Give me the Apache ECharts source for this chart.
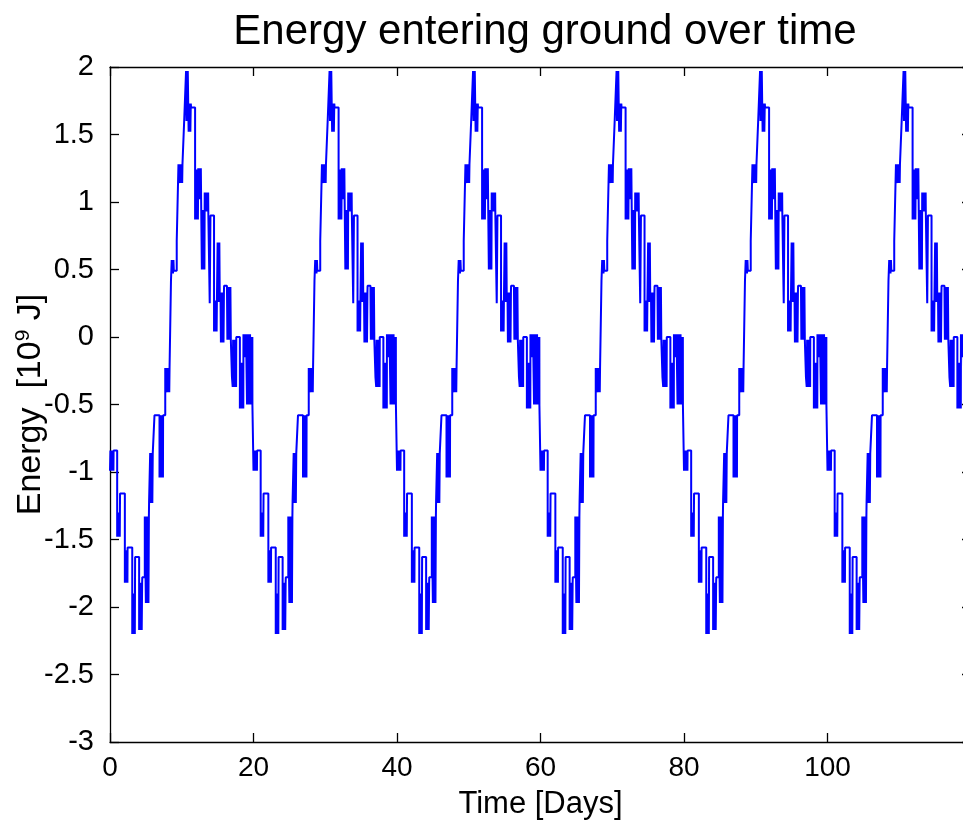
<!DOCTYPE html>
<html>
<head>
<meta charset="utf-8">
<script src="https://cdn.jsdelivr.net/npm/echarts@6/dist/echarts.min.js"></script>
<style>
html,body{margin:0;padding:0;background:#fff;}
#chart{width:963px;height:821px;}
</style>
</head>
<body>
<div id="chart"></div>
<script>
// ---- Data (one 20-day cycle, repeated identically in the picture) ----
const cycleDays = 20;
const cycleCount = 6;
// segment start times (days within a cycle)
const segStart = [0.00,0.50,1.00,1.40,2.07,2.45,3.10,3.50,4.06,4.50,4.85,5.00,5.45,5.60,6.00,6.20,6.90,7.40,7.70,7.90,8.30,8.50,8.60,8.90,9.30,9.54,9.70,10.10,10.33,10.60,10.90,11.30,11.86,11.95,12.30,12.70,12.80,13.20,13.70,13.90,14.00,14.50,14.90,15.00,15.30,15.40,15.90,16.30,16.90,17.00,17.10,17.60,18.10,18.60,19.00,19.10,19.60,19.85];
// segment values: where A == B the level is flat, otherwise the trace oscillates rapidly between A and B
const segA = [-0.99,-0.84,-1.48,-1.16,-1.82,-1.56,-2.20,-1.63,-2.17,-1.78,-1.33,-1.97,-1.21,-0.86,-0.86,-0.58,-1.04,-0.58,-0.23,-0.41,-0.23,0.42,0.57,0.49,0.71,1.28,1.14,1.28,1.59,1.97,1.73,1.70,0.87,1.24,1.25,1.02,0.50,1.07,0.93,0.25,0.90,0.04,0.27,0.70,0.26,0.33,0.38,0.37,-0.02,-0.30,-0.37,0.00,-0.53,0.02,0.02,-0.50,0.00,-0.51];
const segB = [-0.84,-0.84,-1.30,-1.16,-1.58,-1.56,-1.90,-1.63,-1.82,-1.78,-1.33,-1.33,-1.21,-1.23,-0.86,-0.58,-0.58,-0.58,-0.23,-0.23,-0.23,0.42,0.47,0.49,0.71,1.28,1.28,1.28,1.59,1.60,1.52,1.70,0.87,0.87,1.02,1.02,0.94,0.93,0.93,0.25,0.90,0.27,0.27,0.26,0.26,-0.04,0.38,-0.02,-0.02,-0.30,-0.02,0.00,-0.19,-0.15,0.02,0.02,-0.28,-0.51];
const xTicks = [0, 20, 40, 60, 80, 100];
const yTicks = [-3, -2.5, -2, -1.5, -1, -0.5, 0, 0.5, 1, 1.5, 2];

const burstStep = 0.06;
const series = [];
for (let c = 0; c < cycleCount; c++) {
  const off = c * cycleDays;
  for (let i = 0; i < segStart.length; i++) {
    const t0 = segStart[i] + off;
    const t1 = (i + 1 < segStart.length ? segStart[i + 1] : cycleDays) + off;
    if (segA[i] === segB[i]) {
      series.push([t0, segA[i]]);
    } else {
      let k = 0;
      for (let t = t0; t < t1 - 1e-9; t += burstStep, k++) {
        series.push([t, k % 2 === 0 ? segA[i] : segB[i]]);
      }
    }
  }
}
series.push([cycleDays * cycleCount, segA[segA.length - 1]]);

const FONT = 'Liberation Sans, Arial, Helvetica, sans-serif';
const chart = echarts.init(document.getElementById('chart'), null, {renderer: 'canvas'});
const axisLine = {show: true, onZero: false, lineStyle: {color: '#000', width: 1.3}};
const tick = {show: true, inside: true, length: 9, lineStyle: {color: '#000', width: 1.3}};
chart.setOption({
  animation: false,
  backgroundColor: '#fff',
  title: {
    text: 'Energy entering ground over time',
    left: 540,
    top: 6,
    textAlign: 'center',
    textStyle: {fontFamily: FONT, fontSize: 42, fontWeight: 'normal', color: '#000'}
  },
  grid: {left: 110, right: -8, top: 67, bottom: 79, containLabel: false, outerBoundsMode: 'none'},
  xAxis: [{
    type: 'value', min: 0, max: 120, interval: 20, position: 'bottom',
    axisLine: axisLine, axisTick: tick, splitLine: {show: false},
    axisLabel: {color: '#000', fontFamily: FONT, fontSize: 28, margin: 12,
      formatter: v => xTicks.indexOf(v) >= 0 ? String(v) : ''},
    name: 'Time [Days]', nameLocation: 'middle', nameGap: 47, nameMoveOverlap: false,
    nameTextStyle: {color: '#000', fontFamily: FONT, fontSize: 31}
  }, {
    type: 'value', min: 0, max: 120, interval: 20, position: 'top',
    axisLine: axisLine, axisTick: tick, splitLine: {show: false}, axisLabel: {show: false}
  }],
  yAxis: [{
    type: 'value', min: -3, max: 2, interval: 0.5, position: 'left',
    axisLine: axisLine, axisTick: tick, splitLine: {show: false},
    axisLabel: {color: '#000', fontFamily: FONT, fontSize: 29, margin: 16,
      formatter: v => yTicks.indexOf(v) >= 0 ? String(v) : ''},
    name: 'Energy  [10{sup|9} J]', nameLocation: 'middle', nameGap: 62, nameMoveOverlap: false,
    nameTextStyle: {color: '#000', fontFamily: FONT, fontSize: 34,
      rich: {sup: {fontFamily: FONT, fontSize: 21, color: '#000', verticalAlign: 'top', padding: [0, 0, 14, 0]}}}
  }, {
    type: 'value', min: -3, max: 2, interval: 0.5, position: 'right',
    axisLine: axisLine, axisTick: tick, splitLine: {show: false}, axisLabel: {show: false}
  }],
  series: [{
    type: 'line',
    data: series,
    step: 'end',
    showSymbol: false,
    clip: true,
    lineStyle: {color: '#0000ff', width: 2},
    itemStyle: {color: '#0000ff'}
  }]
});
</script>
</body>
</html>
